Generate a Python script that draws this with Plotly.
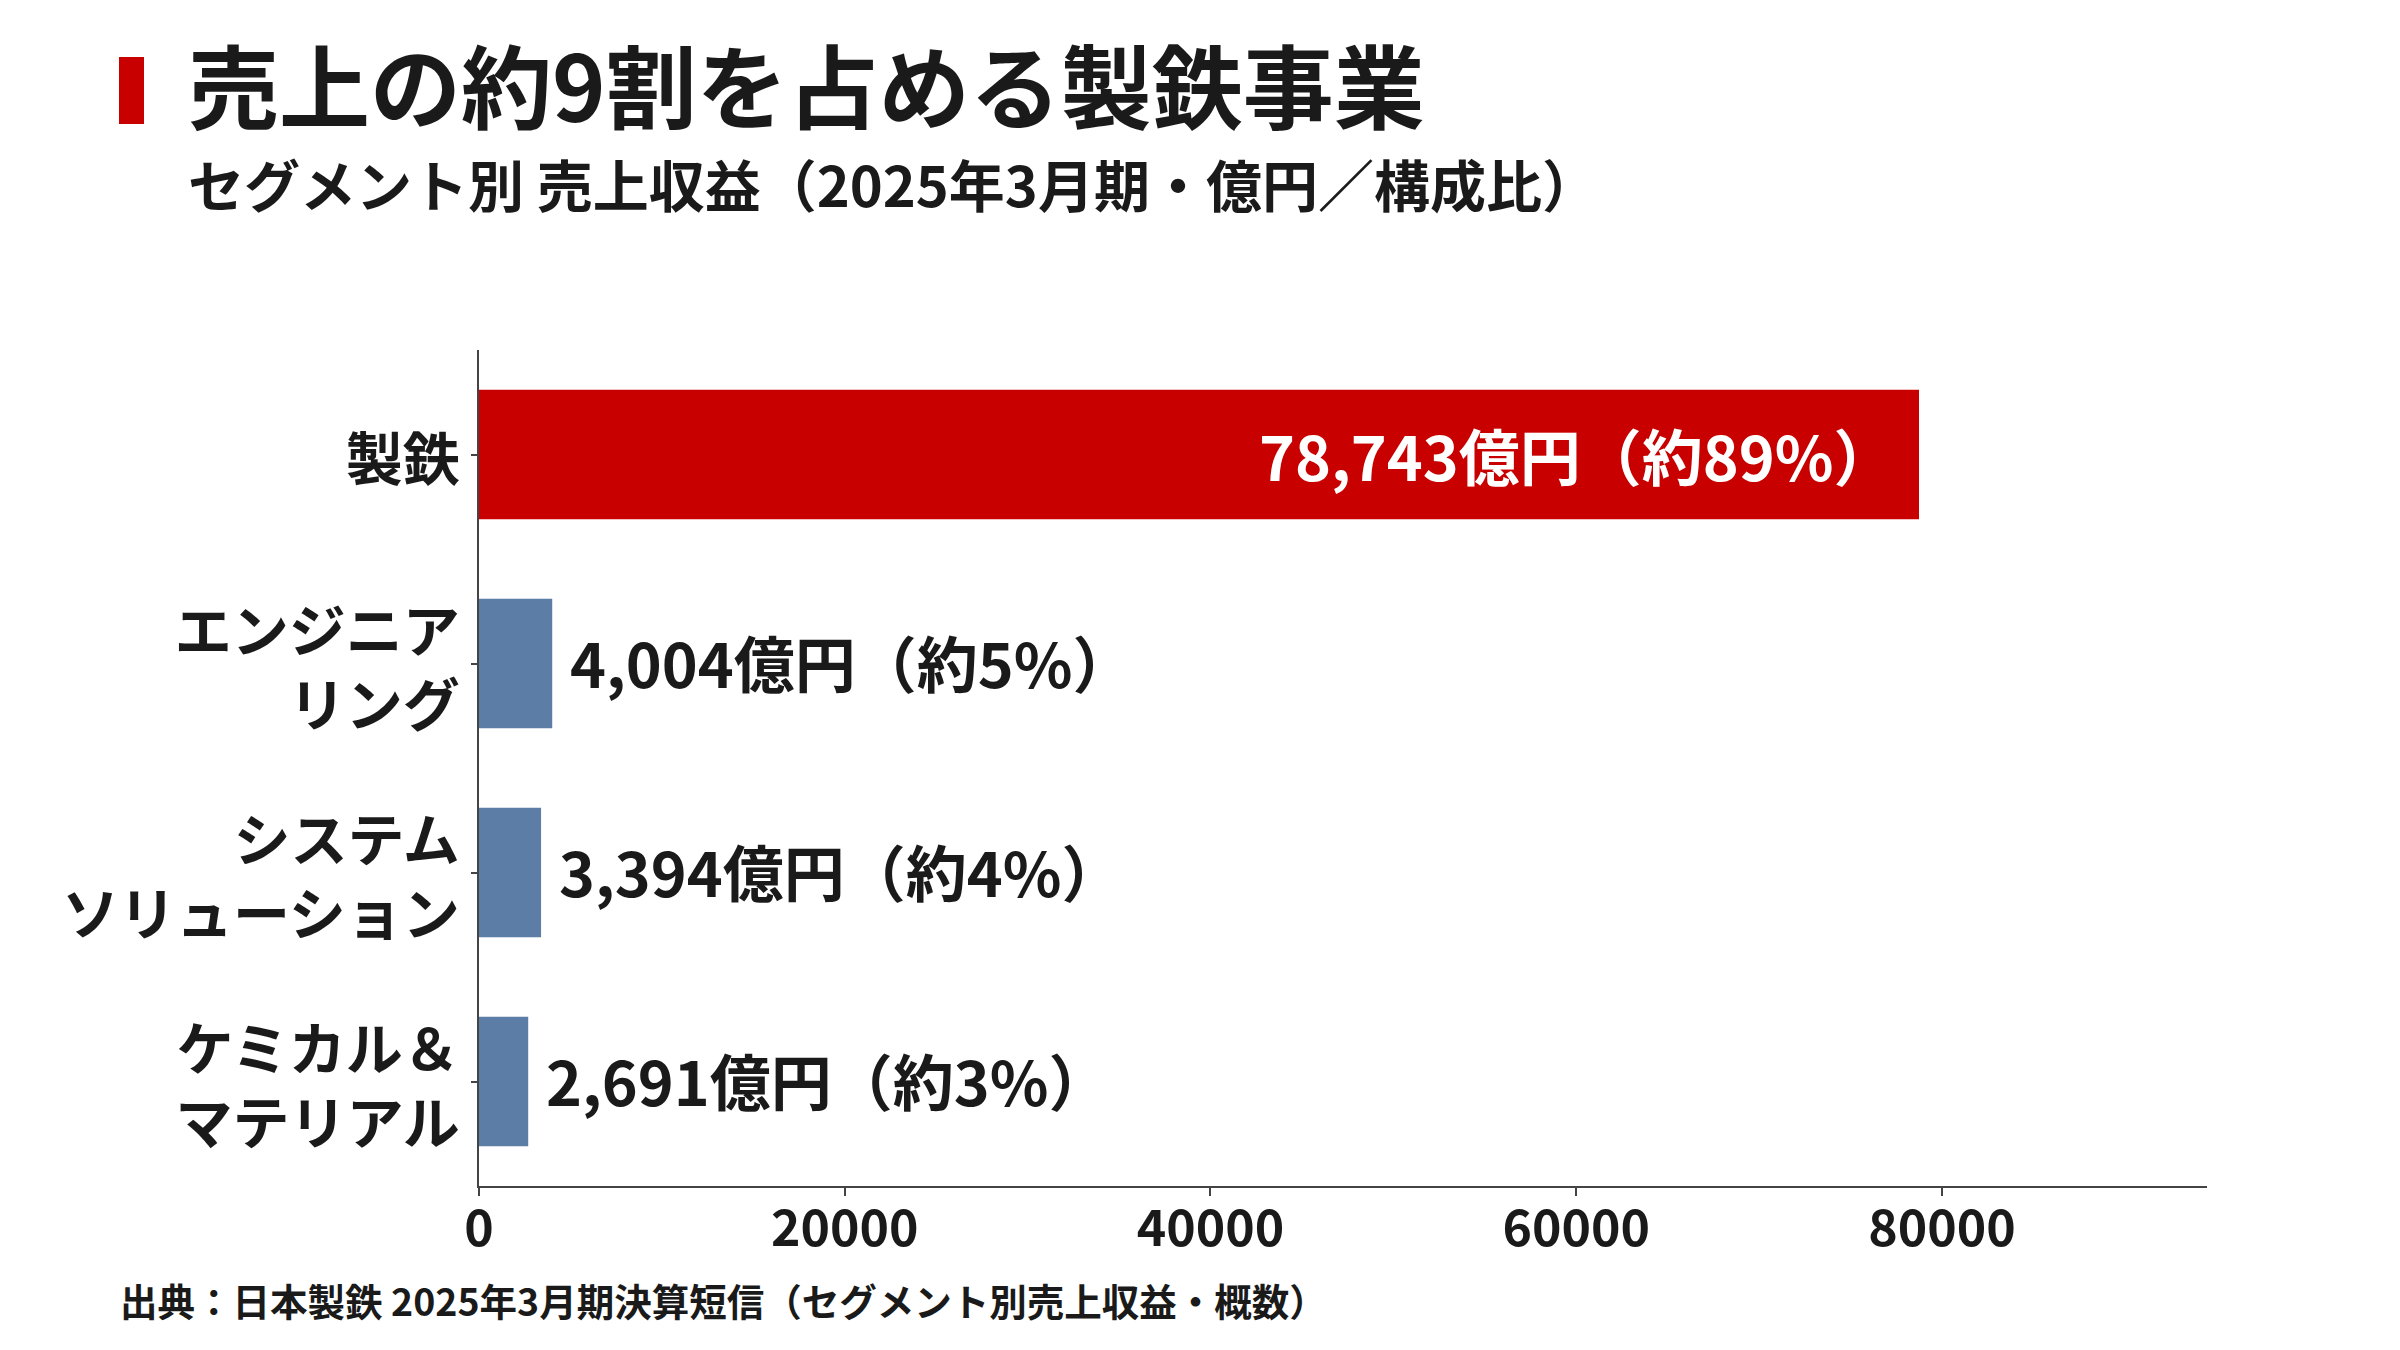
import plotly.graph_objects as go

# ---- data ----
categories = ["製鉄", "エンジニア<br>リング", "システム<br>ソリューション", "ケミカル＆<br>マテリアル"]
revenue = [78743, 4004, 3394, 2691]          # 億円
share = [89, 5, 4, 3]                          # %
bar_colors = ["#C80000", "#5B7DA6", "#5B7DA6", "#5B7DA6"]
x_tickvals = [0, 20000, 40000, 60000, 80000]
x_ticktext = ["0", "20000", "40000", "60000", "80000"]

title_text = "売上の約9割を占める製鉄事業"
subtitle_text = "セグメント別 売上収益（2025年3月期・億円／構成比）"
source_text = "出典：日本製鉄 2025年3月期決算短信（セグメント別売上収益・概数）"

# ---- layout geometry (pixels) ----
W, H = 2400, 1350
L, R, T, B = 479, 193, 350, 164
FONT = "Noto Sans CJK JP"
TEXT = "#1a1a1a"


def px_x(px):
    return (px - L) / (W - L - R)


def px_y(py):
    return (H - B - py) / (H - T - B)


fig = go.Figure(
    go.Bar(
        x=revenue,
        y=categories,
        orientation="h",
        marker=dict(color=bar_colors, line=dict(width=0)),
        width=0.62,
        hoverinfo="skip",
    )
)

annotations = []
for i, (v, s) in enumerate(zip(revenue, share)):
    label = f"{v:,}億円（約{s}%）"
    if i == 0:
        annotations.append(dict(
            x=v, y=categories[i], xref="x", yref="y", text=label,
            showarrow=False, xanchor="right", yanchor="middle", xshift=-22,
            font=dict(family=FONT, size=61, color="white", weight="bold"),
        ))
    else:
        annotations.append(dict(
            x=v, y=categories[i], xref="x", yref="y", text=label,
            showarrow=False, xanchor="left", yanchor="middle", xshift=16, yshift=2,
            font=dict(family=FONT, size=61, color=TEXT, weight="bold"),
        ))

annotations += [
    dict(x=px_x(186), y=px_y(82), xref="paper", yref="paper", text=title_text,
         showarrow=False, xanchor="left", yanchor="middle",
         font=dict(family=FONT, size=91, color=TEXT, weight="bold")),
    dict(x=px_x(186), y=px_y(182), xref="paper", yref="paper", text=subtitle_text,
         showarrow=False, xanchor="left", yanchor="middle",
         font=dict(family=FONT, size=56, color=TEXT, weight="bold")),
    dict(x=px_x(118), y=px_y(1299), xref="paper", yref="paper", text=source_text,
         showarrow=False, xanchor="left", yanchor="middle",
         font=dict(family=FONT, size=37.5, color=TEXT, weight="bold")),
]

shapes = [
    dict(type="rect", xref="paper", yref="paper",
         x0=px_x(119), x1=px_x(144), y0=px_y(124), y1=px_y(57),
         fillcolor="#C80000", line=dict(width=0)),
]

fig.update_layout(
    width=W, height=H,
    margin=dict(l=L, r=R, t=T, b=B, pad=0),
    paper_bgcolor="white", plot_bgcolor="white",
    showlegend=False,
    annotations=annotations,
    shapes=shapes,
    bargap=0.38,
    font=dict(family=FONT, color=TEXT),
)

fig.update_xaxes(
    range=[0, max(revenue) * 1.2],
    tickvals=x_tickvals, ticktext=x_ticktext,
    showgrid=False, zeroline=False,
    showline=True, linecolor="#444444", linewidth=2,
    ticks="outside", ticklen=8, tickwidth=1.5, tickcolor="#444444",
    ticklabelstandoff=-10,
    tickfont=dict(family=FONT, size=50, color=TEXT, weight="bold"),
    fixedrange=True,
)
fig.update_yaxes(
    range=[3.5, -0.5],
    showgrid=False, zeroline=False,
    showline=True, linecolor="#444444", linewidth=1.5,
    ticks="outside", ticklen=6, tickwidth=1.5, tickcolor="#444444",
    ticklabelshift=-6,
    tickfont=dict(family=FONT, size=57, color=TEXT, weight="bold"),
    fixedrange=True,
)

fig.write_html("out.html")
